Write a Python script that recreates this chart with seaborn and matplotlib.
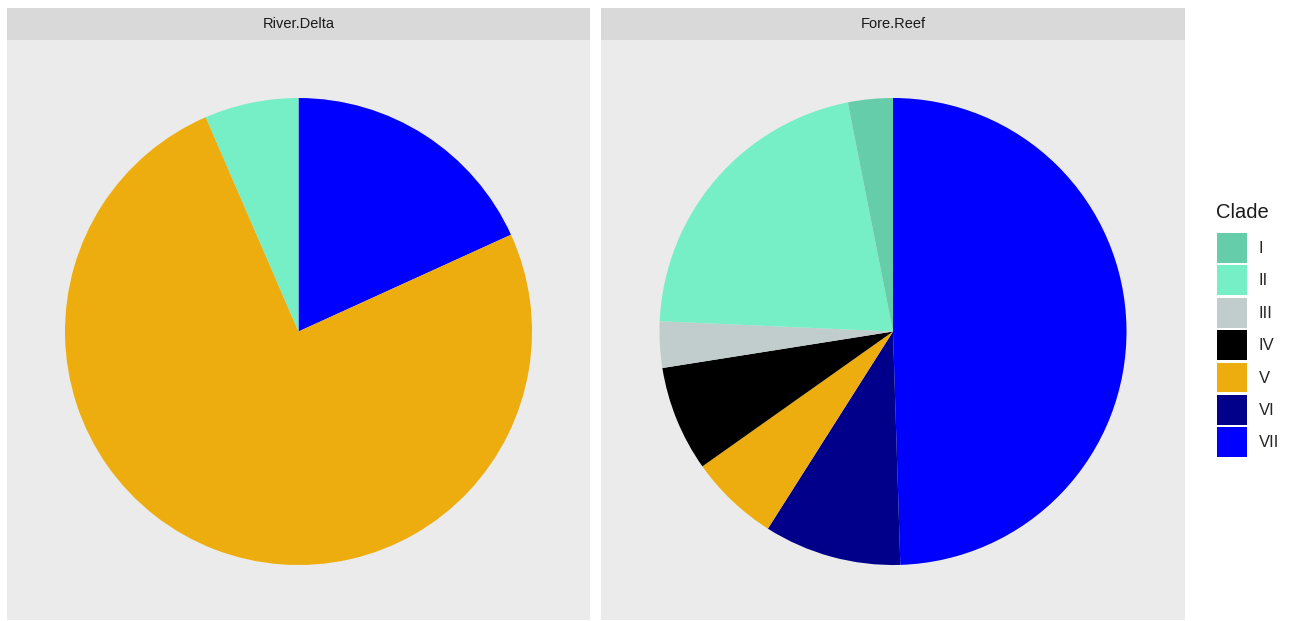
import matplotlib
matplotlib.use("Agg")
import matplotlib.pyplot as plt
import matplotlib.patches as mpatches
import seaborn as sns

clades = ["I", "II", "III", "IV", "V", "VI", "VII"]
clade_colors = ["#66CDAA", "#76EEC6", "#C1CDCD", "#000000", "#EEAD0E", "#00008B", "#0000FF"]
sites = ["River.Delta", "Fore.Reef"]
river_delta = [0.0, 6.5, 0.0, 0.0, 75.3, 0.0, 18.2]
fore_reef = [3.1, 21.2, 3.2, 7.3, 6.2, 9.5, 49.5]

sns.set_theme(style="white")
plt.rcParams["font.family"] = ["Liberation Sans", "DejaVu Sans"]
palette = sns.color_palette(clade_colors)

W, H = 1293, 621
fig = plt.figure(figsize=(W / 100, H / 100), dpi=100)
fig.patch.set_facecolor("white")

panels = [(7, 583), (601, 584)]
data = [river_delta, fore_reef]
for (x0, w), site, vals in zip(panels, sites, data):
    ax = fig.add_axes([x0 / W, 1 / H, w / W, 580 / H])
    ax.set_facecolor("#EBEBEB")
    v = list(reversed(vals))
    c = list(reversed(palette))
    ax.pie(v, colors=c, startangle=90, counterclock=False, radius=1.0,
           wedgeprops=dict(linewidth=0), frame=True)
    r = 233.5
    ax.set_xlim(-(w / 2) / r, (w / 2) / r)
    ax.set_ylim(-288.5 / r, 291.5 / r)
    ax.set_aspect("auto")
    ax.set_xticks([]); ax.set_yticks([])
    for s in ax.spines.values():
        s.set_visible(False)
    sax = fig.add_axes([x0 / W, (H - 40) / H, w / W, 32 / H])
    sax.set_facecolor("#D9D9D9")
    sax.set_xticks([]); sax.set_yticks([])
    for s in sax.spines.values():
        s.set_visible(False)
    sax.text(0.5, 0.5, site, ha="center", va="center", fontsize=10.5, color="#1A1A1A",
             transform=sax.transAxes)

fig.text(1216 / W, 1 - 213 / H, "Clade", ha="left", va="center", fontsize=14.5,
         color="#1A1A1A")
handles = [mpatches.Patch(facecolor=col, edgecolor="none", label=lab)
           for lab, col in zip(clades, palette)]
fs = 12
leg = fig.legend(handles=handles, loc="upper left",
                 bbox_to_anchor=(1217 / W, 1 - 233 / H), frameon=False,
                 fontsize=fs, handlelength=1.8, handleheight=2.39,
                 labelspacing=0.144, handletextpad=0.72, borderpad=0.0,
                 borderaxespad=0.0)

fig.savefig("out.png", dpi=100, facecolor="white")
